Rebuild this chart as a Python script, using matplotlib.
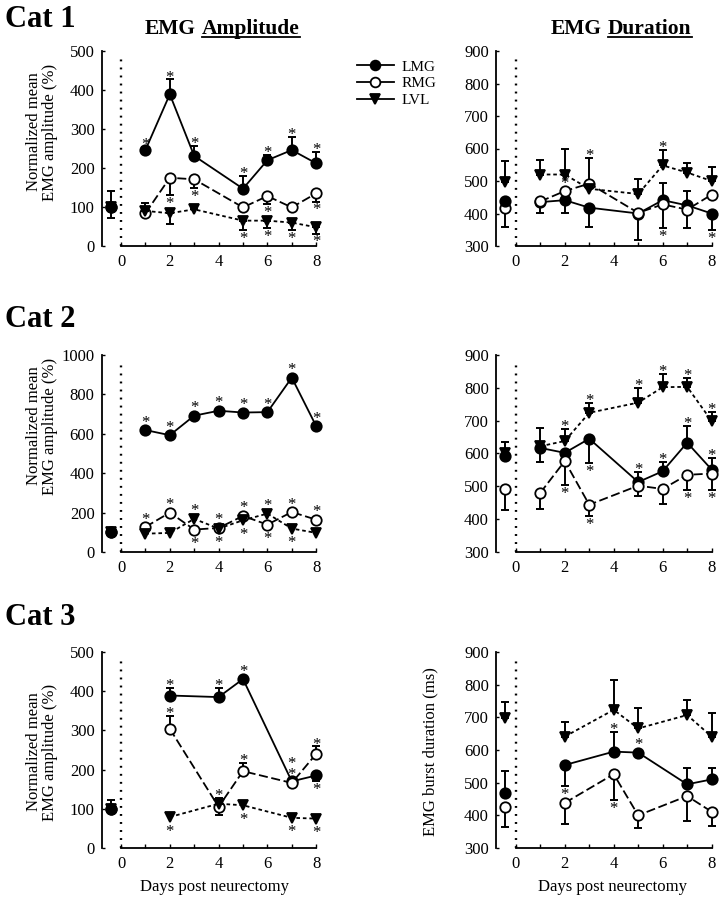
import numpy as np
import matplotlib
matplotlib.use("Agg")
from matplotlib import pyplot as plt
from matplotlib.lines import Line2D

plt.rcParams["font.family"] = ["Liberation Serif", "DejaVu Serif"]

# ---- data ----
days_a = [1, 2, 3, 5, 6, 7, 8]
days_b = [1, 2, 3, 4, 5, 6, 7, 8]
days_c = [2, 4, 5, 7, 8]
base_x = -0.42

# baseline values: LMG, RMG, LVL  (signed error: + up, - down)
c1_amp_base = [100, 100, 100]
c1_amp_base_err = [40, -28, 0]
c1_dur_base = [440, 418, 497]
c1_dur_base_err = [0, -60, 64]
c2_amp_base = [100, 100, 100]
c2_amp_base_err = [0, 0, 0]
c2_dur_base = [592, 492, 600]
c2_dur_base_err = [0, -63, 35]
c3_amp_base = [100, 100, 100]
c3_amp_base_err = [22, 0, 0]
c3_dur_base = [467, 426, 697]
c3_dur_base_err = [69, -62, 49]

# Cat 1 amplitude
c1_amp_lmg = [246, 389, 231, 147, 220, 246, 212]
c1_amp_lmg_err = [8, 38, 26, 32, 13, 33, 30]
c1_amp_lmg_star = [1, 1, 1, 1, 1, 1, 1]
c1_amp_rmg = [84, 175, 171, 99, 128, 99, 135]
c1_amp_rmg_err = [0, -44, -23, 0, -20, 0, -21]
c1_amp_rmg_star = [0, -1, -1, 0, -1, 0, -1]
c1_amp_lvl = [90, 84, 94, 65, 65, 60, 48]
c1_amp_lvl_err = [20, -28, 8, -24, -20, -19, -16]
c1_amp_lvl_star = [0, 0, 0, -1, -1, -1, -1]

# Cat 1 duration
c1_dur_lmg = [435, 441, 418, 400, 441, 425, 400]
c1_dur_lmg_err = [-33, -40, -58, -82, 53, 44, -50]
c1_dur_lmg_star = [0, 0, 0, 0, 0, 0, -1]
c1_dur_rmg = [437, 469, 492, 402, 428, 412, 458]
c1_dur_rmg_err = [0, 0, 78, 0, -73, -58, 0]
c1_dur_rmg_star = [0, 1, 1, 0, -1, 0, 0]
c1_dur_lvl = [520, 520, 476, 460, 548, 526, 500]
c1_dur_lvl_err = [44, 80, 0, 45, 48, 30, 43]
c1_dur_lvl_star = [0, 0, 0, 0, 1, 0, 0]

# Cat 2 amplitude
c2_amp_lmg = [619, 593, 692, 717, 708, 710, 885, 639]
c2_amp_lmg_err = [0, 0, 0, 0, 0, 0, 0, 0]
c2_amp_lmg_star = [1, 1, 1, 1, 1, 1, 1, 1]
c2_amp_rmg = [127, 200, 114, 122, 183, 139, 203, 164]
c2_amp_rmg_err = [0, 0, 0, 0, 0, 0, 0, 0]
c2_amp_rmg_star = [1, 1, -1, 1, 1, -1, 1, 1]
c2_amp_lvl = [93, 97, 168, 119, 161, 195, 119, 97]
c2_amp_lvl_err = [0, 0, 0, 0, 0, 0, 0, 0]
c2_amp_lvl_star = [0, 0, 1, -1, -1, 1, -1, 0]

# Cat 2 duration
c2_dur_lmg = [617, 602, 645, 513, 546, 633, 551]
c2_dur_lmg_err = [-43, 0, -73, 30, 28, 51, 36]
c2_dur_lmg_star = [0, 0, -1, 1, 1, 1, 1]
c2_dur_rmg = [480, 577, 444, 502, 492, 535, 539]
c2_dur_rmg_err = [-49, -72, -35, -32, -46, -45, -49]
c2_dur_rmg_star = [0, -1, -1, 0, 0, -1, -1]
c2_dur_lvl = [622, 638, 724, 755, 802, 803, 699]
c2_dur_lvl_err = [56, 37, 29, 45, 39, 28, 28]
c2_dur_lvl_star = [0, 1, 1, 1, 1, 1, 1]

# Cat 3 amplitude
c3_amp_lmg = [389, 385, 431, 170, 185]
c3_amp_lmg_err = [19, 23, 0, 0, -15]
c3_amp_lmg_star = [1, 1, 1, 1, -1]
c3_amp_rmg = [304, 105, 196, 166, 240]
c3_amp_rmg_err = [32, -20, 21, 0, 19]
c3_amp_rmg_star = [1, 0, 1, 1, 1]
c3_amp_lvl = [79, 113, 109, 77, 75]
c3_amp_lvl_err = [0, 15, 0, 0, 0]
c3_amp_lvl_star = [-1, 1, -1, -1, -1]

# Cat 3 duration
c3_dur_lmg = [554, 595, 592, 495, 510]
c3_dur_lmg_err = [-65, 61, 0, 49, 34]
c3_dur_lmg_star = [0, 1, 1, 0, 0]
c3_dur_rmg = [438, 526, 400, 459, 411]
c3_dur_rmg_err = [-65, -78, -38, -76, -44]
c3_dur_rmg_star = [1, -1, 0, 0, 0]
c3_dur_lvl = [641, 723, 666, 707, 641]
c3_dur_lvl_err = [46, 92, 62, 46, 71]
c3_dur_lvl_star = [0, 0, 0, 0, 0]

W, H = 719, 899
fig = plt.figure(figsize=(W / 100, H / 100), dpi=100)

STYLE = {
    "lmg": dict(marker="o", mfc="k", ls="-"),
    "rmg": dict(marker="o", mfc="white", ls=(0, (5, 2))),
    "lvl": dict(marker="v", mfc="k", ls=(0, (2, 1.6))),
}
ZORDER = {"lmg": 3, "rmg": 4, "lvl": 5}
STAR_FS = 12


def add_axes(left_px, top_px, width_px, height_px, xlim, ylim, yticks):
    ax = fig.add_axes([left_px / W, 1 - (top_px + height_px) / H, width_px / W, height_px / H])
    ax.set_xlim(*xlim)
    ax.set_ylim(*ylim)
    for s in ("top", "right"):
        ax.spines[s].set_visible(False)
    ax.spines["left"].set_linewidth(1.3)
    ax.spines["bottom"].set_linewidth(1.3)
    ax.spines["bottom"].set_bounds(0, 8)
    ax.set_xticks([0, 2, 4, 6, 8])
    ax.set_xticks(range(0, 9), minor=True)
    ax.set_yticks(yticks)
    ax.tick_params(axis="x", which="both", direction="in", length=3, width=1, pad=6, labelsize=12)
    ax.tick_params(axis="y", direction="in", length=2, width=1, pad=5, labelsize=12)
    ax.axvline(0, ymin=0, ymax=0.96, color="k", lw=1.7, ls=(0, (0.8, 2.6)))
    return ax


def draw_errors(ax, x, y, err, z):
    x = np.asarray(x, float)
    y = np.asarray(y, float)
    err = np.asarray(err, float)
    m = err != 0
    if not m.any():
        return
    lo = np.where(err < 0, -err, 0)[m]
    hi = np.where(err > 0, err, 0)[m]
    ax.errorbar(x[m], y[m], yerr=[lo, hi], fmt="none", ecolor="k",
                elinewidth=1.4, capsize=3, capthick=1.4, zorder=z)


def collect_stars(x, y, err, stars, out):
    for xi, yi, ei, s in zip(x, y, err, stars):
        if s == 0:
            continue
        if s * ei > 0:
            out.append((xi, yi + ei, 1.5, s))
        else:
            out.append((xi, yi, 5.5, s))


def draw_stars(ax, specs):
    span = ax.get_ylim()[1] - ax.get_ylim()[0]
    groups = []
    for xi, anchor, gap, s in specs:
        for g in groups:
            if g["x"] == xi and g["s"] == s and abs(g["anchor"] - anchor) < 0.05 * span:
                g["n"] += 1
                if s * (anchor - g["anchor"]) < 0:
                    g["anchor"], g["gap"] = anchor, gap
                break
        else:
            groups.append(dict(x=xi, anchor=anchor, gap=gap, s=s, n=1))
    for g in groups:
        text = "\n".join(["*"] * g["n"])
        if g["n"] == 1:
            off = g["gap"] - 3.0 if g["s"] > 0 else -(g["gap"] + 7.8)
            va = "baseline"
        elif g["s"] > 0:
            off, va = g["gap"] - 5.6, "bottom"
        else:
            off, va = -(g["gap"] - 2.9), "top"
        ax.annotate(text, (g["x"], g["anchor"]), xytext=(0, off), textcoords="offset points",
                    ha="center", va=va, fontsize=STAR_FS, linespacing=0.55, zorder=6)


def draw_panel(ax, days, base, base_err, series):
    specs = []
    for key, (vals, err, stars) in series.items():
        st = STYLE[key]
        z = ZORDER[key]
        draw_errors(ax, days, vals, err, z - 0.5)
        ax.plot(days, vals, color="k", lw=1.3, ls=st["ls"], marker=st["marker"],
                mfc=st["mfc"], mec="k", mew=1.3, ms=7.5, zorder=z)
        collect_stars(days, vals, err, stars, specs)
    draw_stars(ax, specs)
    # baseline points, LMG on top
    for i, key in [(1, "rmg"), (2, "lvl"), (0, "lmg")]:
        st = STYLE[key]
        draw_errors(ax, [base_x], [base[i]], [base_err[i]], 6)
        ax.plot([base_x], [base[i]], ls="none", marker=st["marker"], mfc=st["mfc"],
                mec="k", mew=1.3, ms=7.5, zorder=7 + (i == 0))


rows = [(51, 195), (355, 197), (652, 196)]
amp_lims = [(0, 500), (0, 1000), (0, 500)]
amp_ticks = [range(0, 501, 100), range(0, 1001, 200), range(0, 501, 100)]

amp_data = [
    (days_a, c1_amp_base, c1_amp_base_err,
     {"lmg": (c1_amp_lmg, c1_amp_lmg_err, c1_amp_lmg_star),
      "rmg": (c1_amp_rmg, c1_amp_rmg_err, c1_amp_rmg_star),
      "lvl": (c1_amp_lvl, c1_amp_lvl_err, c1_amp_lvl_star)}),
    (days_b, c2_amp_base, c2_amp_base_err,
     {"lmg": (c2_amp_lmg, c2_amp_lmg_err, c2_amp_lmg_star),
      "rmg": (c2_amp_rmg, c2_amp_rmg_err, c2_amp_rmg_star),
      "lvl": (c2_amp_lvl, c2_amp_lvl_err, c2_amp_lvl_star)}),
    (days_c, c3_amp_base, c3_amp_base_err,
     {"lmg": (c3_amp_lmg, c3_amp_lmg_err, c3_amp_lmg_star),
      "rmg": (c3_amp_rmg, c3_amp_rmg_err, c3_amp_rmg_star),
      "lvl": (c3_amp_lvl, c3_amp_lvl_err, c3_amp_lvl_star)}),
]
dur_data = [
    (days_a, c1_dur_base, c1_dur_base_err,
     {"lmg": (c1_dur_lmg, c1_dur_lmg_err, c1_dur_lmg_star),
      "rmg": (c1_dur_rmg, c1_dur_rmg_err, c1_dur_rmg_star),
      "lvl": (c1_dur_lvl, c1_dur_lvl_err, c1_dur_lvl_star)}),
    (days_a, c2_dur_base, c2_dur_base_err,
     {"lmg": (c2_dur_lmg, c2_dur_lmg_err, c2_dur_lmg_star),
      "rmg": (c2_dur_rmg, c2_dur_rmg_err, c2_dur_rmg_star),
      "lvl": (c2_dur_lvl, c2_dur_lvl_err, c2_dur_lvl_star)}),
    (days_c, c3_dur_base, c3_dur_base_err,
     {"lmg": (c3_dur_lmg, c3_dur_lmg_err, c3_dur_lmg_star),
      "rmg": (c3_dur_rmg, c3_dur_rmg_err, c3_dur_rmg_star),
      "lvl": (c3_dur_lvl, c3_dur_lvl_err, c3_dur_lvl_star)}),
]

for r, (top, h) in enumerate(rows):
    ax = add_axes(101.5, top, 222, h, (-0.8, 8.3), amp_lims[r], amp_ticks[r])
    draw_panel(ax, *amp_data[r])
    ax2 = add_axes(495.7, top, 223.3, h, (-0.82, 8.3), (300, 900), range(300, 901, 100))
    draw_panel(ax2, *dur_data[r])
    for a in (ax, ax2):
        for line in a.lines + a.collections:
            line.set_clip_on(False)

# ---- text ----
def ftext(x, y, s, **kw):
    return fig.text(x / W, 1 - y / H, s, **kw)

for y, label in [(27, "Cat 1"), (327, "Cat 2"), (625, "Cat 3")]:
    ftext(5, y, label, fontsize=22, fontweight="bold", va="baseline", ha="left")

title_parts = []
for xs, word in [(196, "Amplitude"), (602, "Duration")]:
    ftext(xs, 34, "EMG", fontsize=15.5, fontweight="bold", va="baseline", ha="right")
    t = ftext(xs + 6, 34, word, fontsize=15.5, fontweight="bold", va="baseline", ha="left")
    title_parts.append(t)

ylab_amp = "Normalized mean\nEMG amplitude (%)"
for y in (132, 426, 752):
    ftext(42, y, ylab_amp, fontsize=12, rotation=90, ha="center", va="center",
          multialignment="center", linespacing=1.0)
ftext(430, 752, "EMG burst duration (ms)", fontsize=12, rotation=90, ha="center", va="center")
ftext(215, 887, "Days post neurectomy", fontsize=12, ha="center", va="center")
ftext(613, 887, "Days post neurectomy", fontsize=12, ha="center", va="center")

# legend
handles = [Line2D([], [], color="k", lw=1.3, marker=STYLE[k]["marker"], mfc=STYLE[k]["mfc"],
                  mec="k", mew=1.3, ms=7) for k in ("lmg", "rmg", "lvl")]
fig.legend(handles, ["LMG", "RMG", "LVL"], loc="upper left",
           bbox_to_anchor=(357 / W, 1 - 60 / H), frameon=False, fontsize=11,
           handlelength=2.4, handletextpad=0.5, labelspacing=0.2,
           borderpad=0, borderaxespad=0)

# underline the second word of the titles
fig.canvas.draw()
renderer = fig.canvas.get_renderer()
for t in title_parts:
    bb = t.get_window_extent(renderer)
    yline = 1 - 37 / H
    fig.add_artist(Line2D([bb.x0 / W, bb.x1 / W], [yline, yline], color="k", lw=1.3,
                          transform=fig.transFigure))

fig.savefig("out.png", dpi=100)
